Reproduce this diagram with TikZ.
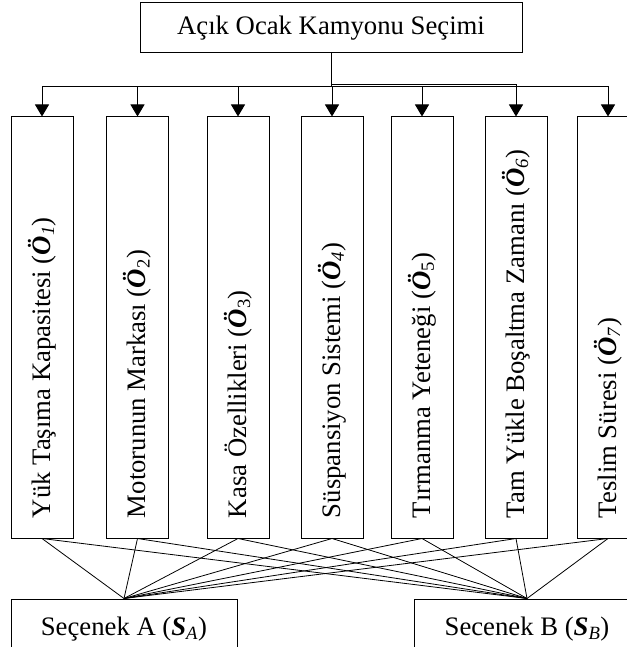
\documentclass[tikz,border=0pt]{standalone}
\usepackage{fontspec}
\setmainfont{Liberation Serif}
\usetikzlibrary{arrows.meta}

\newcommand{\kritlabel}[1]{\rotatebox{90}{\makebox[381pt][l]{#1}}}
\newcommand{\Okod}[1]{(\textbf{\textit{Ö}}\textsubscript{#1})}
\newcommand{\Skod}[1]{(\textbf{\textit{S}}\textsubscript{\textit{#1}})}

\begin{document}
\begin{tikzpicture}[x=1pt,y=-1pt,>={Triangle[length=12pt,width=14pt]},line width=1pt,
		font=\fontsize{26.7}{31}\selectfont]
		\tikzstyle{goalbox}=[draw,minimum width=382,minimum height=50,inner sep=0pt]
		\tikzstyle{kriter}=[draw,minimum width=62,minimum height=421,inner sep=0pt]
		\tikzstyle{secenek}=[draw,minimum width=226,minimum height=61,inner sep=0pt]

		\useasboundingbox (0,0) rectangle (626,647);

		\node[goalbox] (goal) at (331,28) {Açık Ocak Kamyonu Seçimi};
		\coordinate (bus) at (331,87);
		\coordinate (busup) at (331,85);

		\node[kriter] (o1) at (42,327.5)  {\kritlabel{Yük Taşıma Kapasitesi \Okod{\textit{1}}}};
		\node[kriter] (o2) at (137.5,327.5) {\kritlabel{Motorunun Markası \Okod{2}}};
		\node[kriter] (o3) at (238,327.5)   {\kritlabel{Kasa Özellikleri \Okod{3}}};
		\node[kriter] (o4) at (332,327.5) {\kritlabel{Süspansiyon Sistemi \Okod{\textit{4}}}};
		\node[kriter] (o5) at (422,327.5)   {\kritlabel{Tırmanma Yeteneği \Okod{5}}};
		\node[kriter] (o6) at (516,327.5)   {\kritlabel{Tam Yükle Boşaltma Zamanı \Okod{\textit{6}}}};
		\node[kriter] (o7) at (608,327.5) {\kritlabel{Teslim Süresi \Okod{\textit{7}}}};

		\node[secenek] (sA) at (124,629.5) {Seçenek A \Skod{A}};
		\node[secenek] (sB) at (527,629.5) {Secenek B \Skod{B}};

		\draw (goal.south) -- (bus);
		\draw[->] (bus) -| (o1.north);
		\draw[->] (bus) -| (o2.north);
		\draw[->] (bus) -| (o3.north);
		\draw[->] (bus) -| (o4.north);
		\draw[->] (bus) -| (o5.north);
		\draw[->] (busup) -| (o6.north);
		\draw[->] (bus) -| (o7.north);

		\path[draw,line width=0.8pt]
		(o1.south) edge (sA.north) edge (sB.north)
		(o2.south) edge (sA.north) edge (sB.north)
		(o3.south) edge (sA.north) edge (sB.north)
		(o4.south) edge (sA.north) edge (sB.north)
		(o5.south) edge (sA.north) edge (sB.north)
		(o6.south) edge (sA.north) edge (sB.north)
		(o7.south) edge (sA.north) edge (sB.north);
\end{tikzpicture}
\end{document}
